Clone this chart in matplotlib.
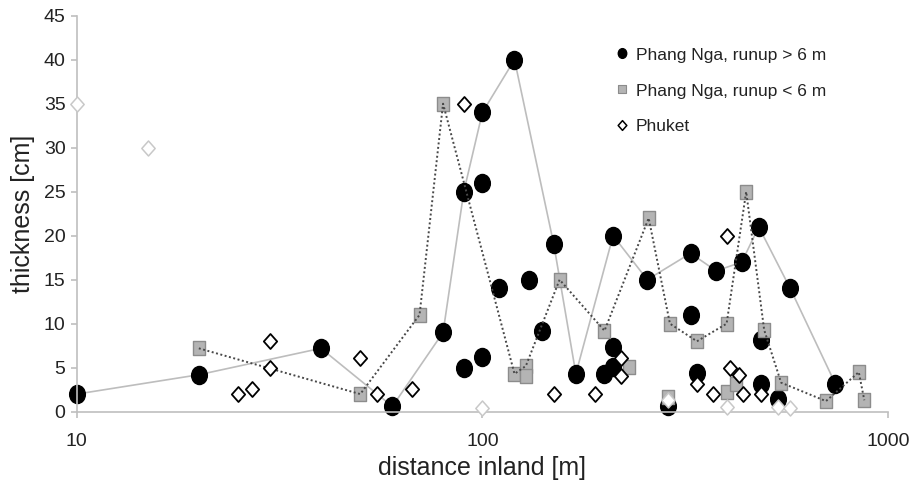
import numpy as np
import matplotlib
matplotlib.use('Agg')
import matplotlib.pyplot as plt
from matplotlib.path import Path
from matplotlib.transforms import Affine2D
from matplotlib.lines import Line2D
from matplotlib.ticker import FixedLocator, NullLocator, StrMethodFormatter

plt.rcParams['font.family'] = ['Liberation Sans', 'DejaVu Sans']

# ===== Data (distance inland [m], thickness [cm]) =====

# Phang Nga, runup > 6 m
high_x = [10, 20, 40, 60, 80, 90, 90, 100, 100, 100, 110, 120, 130, 140, 150, 170,
          200, 210, 210, 210, 255, 286, 326, 326, 338, 377, 436, 480, 486, 486, 535, 574, 741]
high_y = [2, 4.2, 7.2, 0.6, 9, 25, 5, 34, 26, 6.2, 14, 40, 15, 9.2, 19, 4.3,
          4.3, 5.1, 7.3, 20, 15, 0.7, 18, 11, 4.4, 16, 17, 21, 8.1, 3.2, 1.4, 14, 3.2]
# connected maxima (solid line)
high_line_x = [10, 20, 40, 60, 80, 90, 100, 120, 150, 170, 210, 255, 326, 377, 436, 480, 574, 741]
high_line_y = [2, 4.2, 7.2, 0.6, 9, 25, 34, 40, 19, 4.3, 20, 15, 18, 16, 17, 21, 14, 3.2]

# Phang Nga, runup < 6 m
low_x = [20, 50, 70, 80, 120, 128, 128, 155, 200, 230, 257, 286, 290, 338, 400,
         400, 422, 447, 495, 545, 703, 847, 874]
low_y = [7.2, 2, 11, 35, 4.3, 5.2, 4.1, 15, 9.2, 5.1, 22, 1.7, 10, 8, 10,
         2.2, 3.1, 25, 9.3, 3.3, 1.2, 4.5, 1.3]
# connected (dotted line)
low_line_x = [20, 50, 70, 80, 120, 128, 155, 200, 257, 290, 338, 400, 447, 495, 545, 703, 847, 874]
low_line_y = [7.2, 2, 11, 35, 4.3, 5.2, 15, 9.2, 22, 10, 8, 10, 25, 9.3, 3.3, 1.2, 4.5, 1.3]

# Phuket
phuket_x = [25, 27, 30, 30, 50, 55, 67, 90, 150, 190, 220, 220, 338, 370, 401, 408, 428, 438, 486]
phuket_y = [2, 2.6, 8, 5, 6.1, 2, 2.6, 35, 2, 2, 6.1, 4.1, 3.1, 2, 20, 5.0, 4.2, 2, 2]
# Phuket, faint markers
phuket_faint_x = [10, 15, 100, 286, 400, 535, 574]
phuket_faint_y = [35, 30, 0.4, 1.3, 0.5, 0.5, 0.4]

x_ticks = [10, 100, 1000]
y_ticks = np.arange(0, 46, 5)

# ===== Marker shapes (slightly taller than wide) =====

ellipse = Path.unit_circle().transformed(Affine2D().scale(0.87, 1.0))
rect = Path([(-0.89, -1), (0.89, -1), (0.89, 1), (-0.89, 1), (-0.89, -1)],
            [Path.MOVETO, Path.LINETO, Path.LINETO, Path.LINETO, Path.CLOSEPOLY])
diamond = Path([(0, -1), (0.89, 0), (0, 1), (-0.89, 0), (0, -1)],
               [Path.MOVETO, Path.LINETO, Path.LINETO, Path.LINETO, Path.CLOSEPOLY])

# ===== Plot =====

fig = plt.figure(figsize=(9.11, 4.84), dpi=100)
ax = fig.add_axes([0.0842, 0.1494, 0.8906, 0.8182])

ax.plot(high_line_x, high_line_y, '-', color='#bdbdbd', lw=1.2, zorder=1)
ax.plot(high_x, high_y, linestyle='none', marker=ellipse, markersize=13,
        color='black', zorder=2, clip_on=False)
ax.plot(low_x, low_y, linestyle='none', marker=rect, markersize=10.3,
        markerfacecolor='#b4b4b4', markeredgecolor='#8c8c8c', markeredgewidth=1.0,
        zorder=3, clip_on=False)
ax.plot(low_line_x, low_line_y, linestyle=(0, (1, 1.3)), color='#484848', lw=1.4, zorder=4)
ax.plot(phuket_faint_x, phuket_faint_y, linestyle='none', marker=diamond, markersize=10.8,
        markerfacecolor='white', markeredgecolor='#c8c8c8', markeredgewidth=1.1,
        zorder=5, clip_on=False)
ax.plot(phuket_x, phuket_y, linestyle='none', marker=diamond, markersize=10.8,
        markerfacecolor='white', markeredgecolor='black', markeredgewidth=1.3,
        zorder=6, clip_on=False)

ax.set_xscale('log')
ax.set_xlim(10, 1000)
ax.set_ylim(0, 45)
ax.xaxis.set_major_locator(FixedLocator(x_ticks))
ax.xaxis.set_minor_locator(NullLocator())
ax.xaxis.set_major_formatter(StrMethodFormatter('{x:.0f}'))
ax.set_yticks(y_ticks)

for side in ('top', 'right'):
    ax.spines[side].set_visible(False)
for side in ('left', 'bottom'):
    ax.spines[side].set_color('#bfbfbf')
    ax.spines[side].set_linewidth(1.2)

ax.tick_params(axis='both', colors='#bfbfbf', labelcolor='#222222', labelsize=14,
               length=4, width=1.2)
ax.tick_params(axis='x', pad=11)
ax.tick_params(axis='y', pad=4)

ax.set_xlabel('distance inland [m]', fontsize=18, color='#222222', labelpad=5)
ax.set_ylabel('thickness [cm]', fontsize=18, color='#222222', labelpad=6)

handles = [
    Line2D([], [], linestyle='none', marker=ellipse, markersize=7, color='black'),
    Line2D([], [], linestyle='none', marker=rect, markersize=6,
           markerfacecolor='#b4b4b4', markeredgecolor='#8c8c8c', markeredgewidth=0.8),
    Line2D([], [], linestyle='none', marker=diamond, markersize=7,
           markerfacecolor='white', markeredgecolor='black', markeredgewidth=1.1),
]
labels = ['Phang Nga, runup > 6 m', 'Phang Nga, runup < 6 m', 'Phuket']
leg = ax.legend(handles, labels, loc='upper left', bbox_to_anchor=(0.661, 0.92),
                frameon=False, fontsize=12.5, borderpad=0, borderaxespad=0,
                handlelength=1, handletextpad=0.3, labelspacing=1.2)
for t in leg.get_texts():
    t.set_color('#222222')

fig.savefig('out.png', dpi=100)
